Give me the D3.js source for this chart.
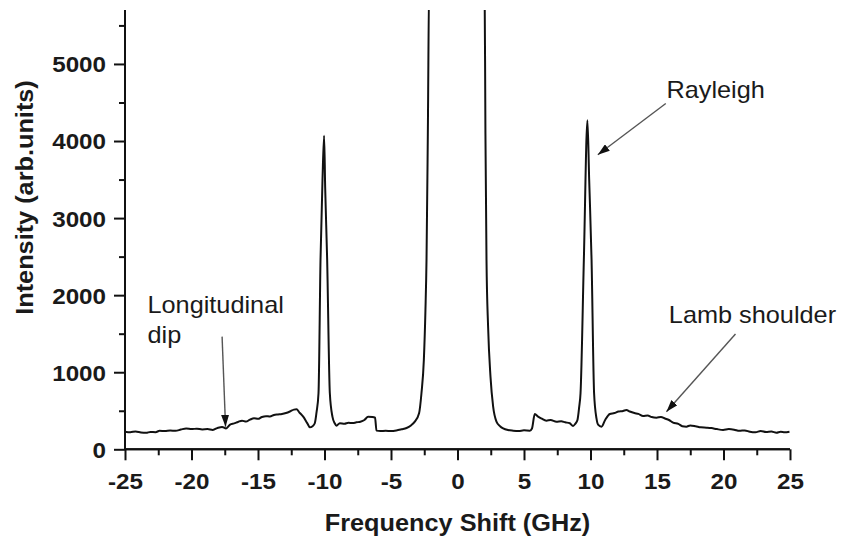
<!DOCTYPE html>
<html>
<head>
<meta charset="utf-8">
<script src="https://cdn.jsdelivr.net/npm/d3@7"></script>
<style>
  html, body { margin: 0; padding: 0; background: #fff; }
  svg { display: block; }
  text { font-family: "Liberation Sans", Arial, sans-serif; fill: #1a1a1a; }
</style>
</head>
<body>
<svg id="chart" width="844" height="537"></svg>
<script>
// Brillouin spectrum: frequency shift (GHz) vs. intensity (arb. units)
const freqGHz = [
  -25.0, -24.6, -24.2, -23.8, -23.4, -23.1, -22.7, -22.4, -22.0, -21.6, -21.2, -20.8,
  -20.4, -20.0, -19.6, -19.2, -18.8, -18.4, -18.0, -17.7, -17.4, -17.1, -16.8, -16.5,
  -16.2, -15.9, -15.6, -15.3, -15.0, -14.7, -14.4, -14.1, -13.8, -13.5, -13.2, -12.9,
  -12.6, -12.3, -12.1, -11.9, -11.6, -11.3, -11.1, -10.9, -10.73, -10.6, -10.45, -10.3,
  -10.15, -10.03, -9.95, -9.8, -9.6, -9.4, -9.23, -9.1, -8.85, -8.5, -8.2, -7.9,
  -7.6, -7.3, -7.0, -6.72, -6.4, -6.2, -6.09, -5.8, -5.4, -5.0, -4.6, -4.2,
  -3.83, -3.5, -3.21, -2.89, -2.71, -2.53, -2.41, -2.33, -2.23, -2.12,
  2.03, 2.1, 2.18, 2.3, 2.48, 2.68, 2.93, 3.2, 3.43, 3.8, 4.18, 4.6,
  5.0, 5.44, 5.6, 5.81, 6.06, 6.3, 6.69, 7.0, 7.44, 7.8, 8.1, 8.44,
  8.69, 8.85, 9.02, 9.15, 9.25, 9.5, 9.77, 9.9, 10.08, 10.27, 10.45, 10.57,
  10.83, 11.1, 11.45, 11.8, 12.1, 12.45, 12.7, 12.95, 13.3, 13.6, 13.95, 14.3,
  14.6, 14.96, 15.3, 15.6, 15.9, 16.21, 16.6, 16.9, 17.21, 17.5, 17.9, 18.3,
  18.72, 19.1, 19.5, 19.97, 20.4, 20.8, 21.2, 21.6, 21.98, 22.4, 22.8, 23.2,
  23.6, 23.98, 24.3, 24.6, 24.96
];
const intensity = [
  229, 222, 232, 218, 214, 226, 222, 240, 236, 244, 240, 256,
  270, 262, 268, 258, 262, 252, 280, 290, 270, 320, 336, 355,
  372, 360, 385, 402, 395, 420, 430, 425, 445, 452, 458, 470,
  490, 515, 519, 480, 423, 340, 286, 300, 338, 480, 730, 2460,
  3500, 4069, 3400, 2460, 730, 420, 338, 307, 338, 332, 345, 340,
  350, 358, 380, 423, 420, 410, 242, 236, 240, 238, 245, 260,
  276, 310, 359, 467, 727, 1160, 1809, 2458, 4100, 6200,
  6200, 4100, 2458, 1593, 943, 553, 359, 300, 272, 250, 242, 238,
  246, 242, 270, 458, 423, 400, 372, 380, 359, 365, 350, 338,
  303, 330, 381, 550, 727, 2458, 4268, 3500, 2458, 727, 400, 320,
  294, 380, 458, 470, 490, 497, 510, 490, 470, 460, 433, 440,
  418, 410, 420, 400, 380, 346, 330, 300, 294, 310, 300, 285,
  281, 275, 262, 251, 262, 255, 240, 245, 229, 222, 238, 225,
  230, 216, 228, 222, 229
];

const xTickValues = [-25, -20, -15, -10, -5, 0, 5, 10, 15, 20, 25];
const xMinorTicks = [-22.5, -17.5, -12.5, -7.5, -2.5, 2.5, 7.5, 12.5, 17.5, 22.5];
const yTickValues = [0, 1000, 2000, 3000, 4000, 5000];
const yMinorTicks = [500, 1500, 2500, 3500, 4500, 5500];

const xTitle = "Frequency Shift (GHz)";
const yTitle = "Intensity (arb.units)";

// Annotations in data units: label lines, label anchor, arrow tail and tip
const noteLabels = [["Rayleigh"], ["Lamb shoulder"], ["Longitudinal", "dip"]];
const noteTextAt = [[15.71, 4562], [15.89, 1636], [-23.31, 1774]];
const noteTail = [[15.66, 4486], [20.9, 1497], [-17.7, 1462]];
const noteTip = [[10.55, 3822], [15.71, 488], [-17.44, 293]];

const svg = d3.select("#chart");
const plotLeft = 125, plotRight = 790, plotTop = 10, plotBottom = 449.3;
const textStretch = 1.1;

const x = d3.scaleLinear().domain([-25, 25]).range([plotLeft, plotRight]);
const y = d3.scaleLinear().domain([0, 5700]).range([plotBottom, plotTop]);

// plain hyphen for negative tick labels
const tickFmt = d => String(d);

const defs = svg.append("defs");
defs.append("clipPath").attr("id", "plotClip")
  .append("rect").attr("x", plotLeft).attr("y", plotTop)
  .attr("width", plotRight - plotLeft + 2).attr("height", plotBottom - plotTop);

defs.append("marker")
  .attr("id", "head").attr("viewBox", "0 0 12 8")
  .attr("refX", 12).attr("refY", 4)
  .attr("markerWidth", 12).attr("markerHeight", 8)
  .attr("markerUnits", "userSpaceOnUse")
  .attr("orient", "auto")
  .append("path").attr("d", "M0,0 L12,4 L0,8 Z").attr("fill", "#111");

// spectrum trace
const pts = freqGHz.map((f, i) => [f, intensity[i]]);
svg.append("path")
  .datum(pts)
  .attr("clip-path", "url(#plotClip)")
  .attr("fill", "none")
  .attr("stroke", "#111")
  .attr("stroke-width", 2)
  .attr("stroke-linejoin", "round")
  .attr("d", d3.line().curve(d3.curveMonotoneX).x(d => x(d[0])).y(d => y(d[1])));

// axes
const axisFont = "bold 22px 'Liberation Sans', Arial, sans-serif";

const xAxisG = svg.append("g").attr("transform", `translate(0,${plotBottom})`);
xAxisG.append("g").call(d3.axisBottom(x).tickValues(xMinorTicks).tickSize(6).tickFormat(""));
xAxisG.append("g").call(d3.axisBottom(x).tickValues(xTickValues).tickSize(11).tickFormat(tickFmt));
xAxisG.selectAll(".tick text")
  .attr("y", 24).attr("dy", "0.71em")
  .style("font", axisFont)
  .attr("fill", "#1a1a1a")
  .attr("transform", `scale(${textStretch},1)`);

const yAxisG = svg.append("g").attr("transform", `translate(${plotLeft},0)`);
yAxisG.append("g").call(d3.axisLeft(y).tickValues(yMinorTicks).tickSize(6).tickFormat(""));
yAxisG.append("g").call(d3.axisLeft(y).tickValues(yTickValues).tickSize(11).tickFormat(tickFmt));
yAxisG.selectAll(".tick text")
  .attr("x", -19 / textStretch).attr("dy", "0.36em")
  .style("font", axisFont)
  .attr("fill", "#1a1a1a")
  .attr("transform", `scale(${textStretch},1)`);

svg.selectAll(".domain").attr("stroke", "#111").attr("stroke-width", 2);
svg.selectAll(".tick line").attr("stroke", "#111").attr("stroke-width", 2);
// axis lines span the full plot frame
yAxisG.selectAll(".domain").attr("d", `M0,${plotTop}V${plotBottom}`);
xAxisG.selectAll(".domain").attr("d", `M${plotLeft},0H${plotRight}`);

// axis titles
svg.append("text")
  .attr("transform", `translate(${(plotLeft + plotRight) / 2},531) scale(${textStretch},1)`)
  .attr("text-anchor", "middle")
  .style("font", "bold 23px 'Liberation Sans', Arial, sans-serif")
  .text(xTitle);

svg.append("text")
  .attr("transform", `translate(33,197.5) rotate(-90) scale(${textStretch},1)`)
  .attr("text-anchor", "middle")
  .style("font", "bold 23px 'Liberation Sans', Arial, sans-serif")
  .text(yTitle);

// annotations
noteLabels.forEach((lines, i) => {
  const [tx, ty] = noteTextAt[i];
  lines.forEach((line, j) => {
    svg.append("text")
      .attr("transform", `translate(${x(tx)},${y(ty) + j * 30.6}) scale(${textStretch},1)`)
      .style("font", "23px 'Liberation Sans', Arial, sans-serif")
      .attr("fill", "#222")
      .text(line);
  });
  svg.append("line")
    .attr("x1", x(noteTail[i][0])).attr("y1", y(noteTail[i][1]))
    .attr("x2", x(noteTip[i][0])).attr("y2", y(noteTip[i][1]))
    .attr("stroke", "#555").attr("stroke-width", 1.4)
    .attr("marker-end", "url(#head)");
});
</script>
</body>
</html>
